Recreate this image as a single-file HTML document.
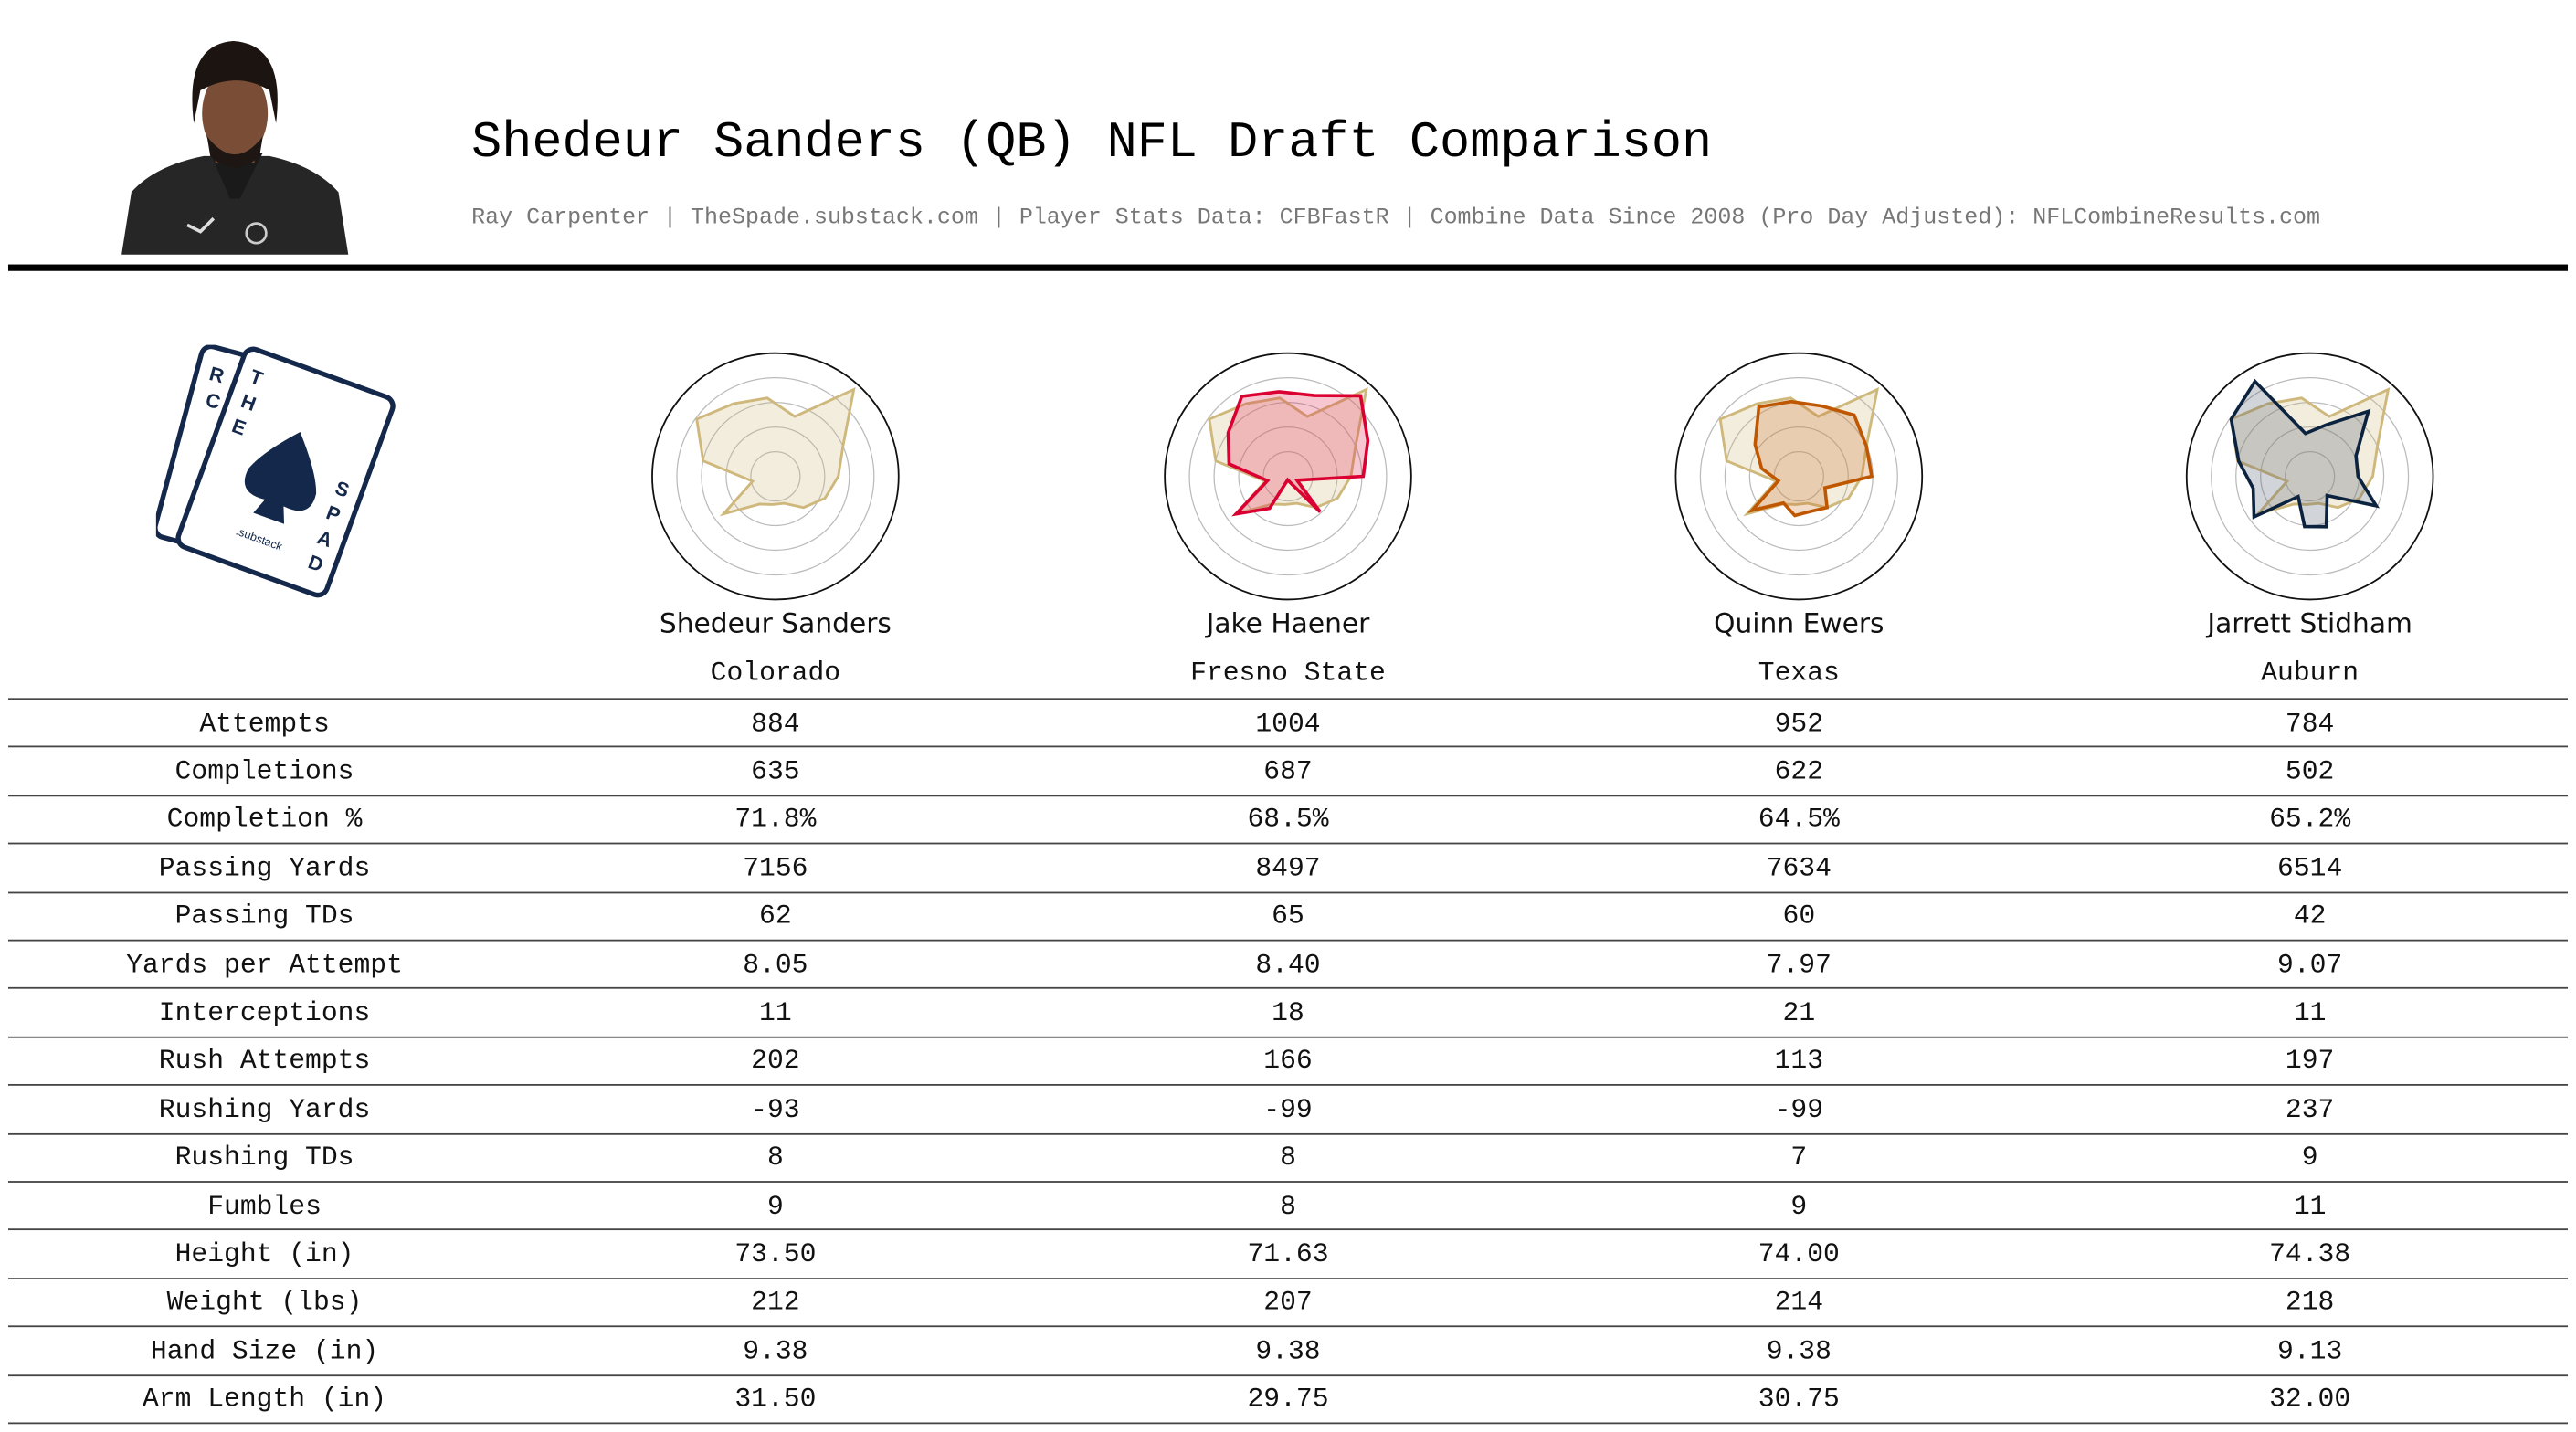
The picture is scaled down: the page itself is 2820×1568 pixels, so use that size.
<!DOCTYPE html>
<html><head><meta charset="utf-8"><style>
html,body{margin:0;padding:0;background:#fff;width:2820px;height:1568px;overflow:hidden}
#wrap{position:absolute;left:0;top:0;width:1568px;height:872px;transform:scale(1.79847);transform-origin:0 0}
.mono{font-family:"Liberation Mono",monospace}
.abs{position:absolute}
.title{left:287px;top:70px;font-size:30.7px;color:#000;white-space:nowrap}
.sub{left:287px;top:125px;font-size:13.9px;color:#777;white-space:nowrap}
.rule{left:5px;top:161px;width:1558px;height:4px;background:#000}
.cell{position:absolute;width:300px;margin-left:-150px;text-align:center;font-size:16.5px;color:#111;white-space:nowrap}
.name{font-family:"DejaVu Sans","Liberation Sans",sans-serif;font-size:16.5px}
.hline{position:absolute;left:5px;width:1558px;height:1px;background:#444}
</style></head><body>
<div id="wrap">
<svg class="abs" style="left:74px;top:25px" width="140" height="132">
  <path d="M0,130 L6,92 Q20,76 50,70 L90,70 Q118,76 132,92 L138,130 Z" fill="#262626"/>
  <path d="M54,68 L66,96 L72,96 L86,68 Z" fill="#1a1a1a"/>
  <rect x="57" y="52" width="24" height="22" fill="#6b4430"/>
  <ellipse cx="69" cy="44" rx="20" ry="28" fill="#7a4e36"/>
  <path d="M44,50 Q38,2 68,0 Q100,2 94,50 L90,30 Q70,18 48,30 Z" fill="#1b1410"/>
  <path d="M52,58 Q69,80 86,58 L84,70 Q69,84 54,70 Z" fill="#1e1612"/>
  <path d="M40,112 l8,4 l8,-8" stroke="#ddd" stroke-width="2" fill="none"/>
  <circle cx="82" cy="117" r="6" fill="none" stroke="#ccc" stroke-width="1.5"/>
</svg>
<div class="abs mono title">Shedeur Sanders (QB) NFL Draft Comparison</div>
<div class="abs mono sub">Ray Carpenter | TheSpade.substack.com | Player Stats Data: CFBFastR | Combine Data Since 2008 (Pro Day Adjusted): NFLCombineResults.com</div>
<div class="abs rule"></div>
<svg class="abs" style="left:95px;top:210px" width="150" height="160">
  <g transform="rotate(15 60 70)">
    <rect x="12" y="10" width="90" height="120" rx="6" fill="#fff" stroke="#14284b" stroke-width="3"/>
    <text x="20" y="30" font-size="12" fill="#14284b" font-family="Liberation Sans,sans-serif" font-weight="bold">R</text>
    <text x="22" y="46" font-size="12" fill="#14284b" font-family="Liberation Sans,sans-serif" font-weight="bold">C</text>
  </g>
  <g transform="rotate(20 80 80)">
    <rect x="30" y="14" width="96" height="128" rx="6" fill="#fff" stroke="#14284b" stroke-width="3"/>
    <text x="38" y="34" font-size="12" fill="#14284b" font-family="Liberation Sans,sans-serif" font-weight="bold">T</text>
    <text x="38" y="50" font-size="12" fill="#14284b" font-family="Liberation Sans,sans-serif" font-weight="bold">H</text>
    <text x="38" y="66" font-size="12" fill="#14284b" font-family="Liberation Sans,sans-serif" font-weight="bold">E</text>
    <text x="110" y="80" font-size="12" fill="#14284b" font-family="Liberation Sans,sans-serif" font-weight="bold">S</text>
    <text x="110" y="96" font-size="12" fill="#14284b" font-family="Liberation Sans,sans-serif" font-weight="bold">P</text>
    <text x="110" y="112" font-size="12" fill="#14284b" font-family="Liberation Sans,sans-serif" font-weight="bold">A</text>
    <text x="110" y="128" font-size="12" fill="#14284b" font-family="Liberation Sans,sans-serif" font-weight="bold">D</text>
    <path d="M78,52 Q60,72 56,84 Q54,100 72,98 L68,108 L88,108 L84,98 Q102,100 100,84 Q96,72 78,52 Z" fill="#14284b"/>
    <text x="62" y="124" font-size="7" fill="#14284b" font-family="Liberation Sans,sans-serif">.substack</text>
  </g>
</svg>
<svg id="radars" class="abs" style="left:0;top:200px" width="1568" height="180"></svg>
<div id="table"></div>
</div>
<script>
var axisAngles = [18,42,66,90,114,138,162,186,210,234,258,282,306,330,354];
var sandersVals = [51,95,60,51,44,34,23,23,26,52,19,60,79,68,64];
var haenerVals = [69,88,71,61,8,39,5,3,30,52,17,49,60,75,69];
var ewersVals = [60,67,60,59,23,34,30,32,25,47,17,31,44,65,61];
var stidhamVals = [44,71,41,39,59,21,43,41,19,56,47,59,79,89,35];
var players = ["Shedeur Sanders","Jake Haener","Quinn Ewers","Jarrett Stidham"];
var schools = ["Colorado","Fresno State","Texas","Auburn"];
var statLabels = ["Attempts","Completions","Completion %","Passing Yards","Passing TDs","Yards per Attempt","Interceptions","Rush Attempts","Rushing Yards","Rushing TDs","Fumbles","Height (in)","Weight (lbs)","Hand Size (in)","Arm Length (in)"];
var sandersStats = ["884","635","71.8%","7156","62","8.05","11","202","-93","8","9","73.50","212","9.38","31.50"];
var haenerStats = ["1004","687","68.5%","8497","65","8.40","18","166","-99","8","8","71.63","207","9.38","29.75"];
var ewersStats = ["952","622","64.5%","7634","60","7.97","21","113","-99","7","9","74.00","214","9.38","30.75"];
var stidhamStats = ["784","502","65.2%","6514","42","9.07","11","197","237","9","11","74.38","218","9.13","32.00"];

var NS="http://www.w3.org/2000/svg";
var colX=[472,784,1095,1406], cy=90, R=75;
function rScale(v){return v/100*R;}
function pts(vals,cx){return vals.map(function(v,i){var a=axisAngles[i]*Math.PI/180;var r=rScale(v);return (cx+r*Math.sin(a)).toFixed(1)+","+(cy-r*Math.cos(a)).toFixed(1);}).join(" ");}
var svg=document.getElementById("radars");
var series=[null,{v:haenerVals,c:"#DB0032",f:"rgba(225,30,70,0.25)"},{v:ewersVals,c:"#BF5700",f:"rgba(205,110,40,0.25)"},{v:stidhamVals,c:"#0C2340",f:"rgba(70,85,105,0.25)"}];
colX.forEach(function(cx,k){
  var g=document.createElementNS(NS,"g");
  
  
  [15,30,45,60].forEach(function(r){var c=document.createElementNS(NS,"circle");c.setAttribute("cx",cx);c.setAttribute("cy",cy);c.setAttribute("r",r);c.setAttribute("fill","none");c.setAttribute("stroke","#bbb");c.setAttribute("stroke-width","0.7");
    
    
    g.appendChild(c);});
  var o=document.createElementNS(NS,"circle");o.setAttribute("cx",cx);o.setAttribute("cy",cy);o.setAttribute("r",R);o.setAttribute("fill","none");o.setAttribute("stroke","#111");o.setAttribute("stroke-width","1");
  
  
  g.appendChild(o);
  var p=document.createElementNS(NS,"polygon");p.setAttribute("points",pts(sandersVals,cx));p.setAttribute("fill","rgba(207,184,124,0.25)");p.setAttribute("stroke","#CFB87C");p.setAttribute("stroke-width","1.6");p.setAttribute("stroke-linejoin","miter");
  
  
  g.appendChild(p);
  if(series[k]){var q=document.createElementNS(NS,"polygon");q.setAttribute("points",pts(series[k].v,cx));q.setAttribute("fill",series[k].f);q.setAttribute("stroke",series[k].c);q.setAttribute("stroke-width","2");
    
    
    g.appendChild(q);}
  svg.appendChild(g);
});
var wrap=document.getElementById("wrap");
function addCell(x,y,txt,cls,name){var d=document.createElement("div");d.className="cell "+cls;d.style.left=x+"px";d.style.top=y+"px";d.textContent=txt;
  
  
  wrap.appendChild(d);}
players.forEach(function(n,k){addCell(colX[k],370,n,"name","player-name");addCell(colX[k],400,schools[k],"mono","player-school");});
var rowTop=425,rowH=29.4;
var allStats=[sandersStats,haenerStats,ewersStats,stidhamStats];
for(var i=0;i<=statLabels.length;i++){var l=document.createElement("div");l.className="hline";l.style.top=(rowTop+i*rowH).toFixed(1)+"px";
  
  
  wrap.appendChild(l);}
statLabels.forEach(function(lab,i){var y=rowTop+i*rowH+5.5;addCell(161,y,lab,"mono","stat-label");allStats.forEach(function(s,k){addCell(colX[k],y,s[i],"mono","stat-value");});});
</script>
</body></html>
